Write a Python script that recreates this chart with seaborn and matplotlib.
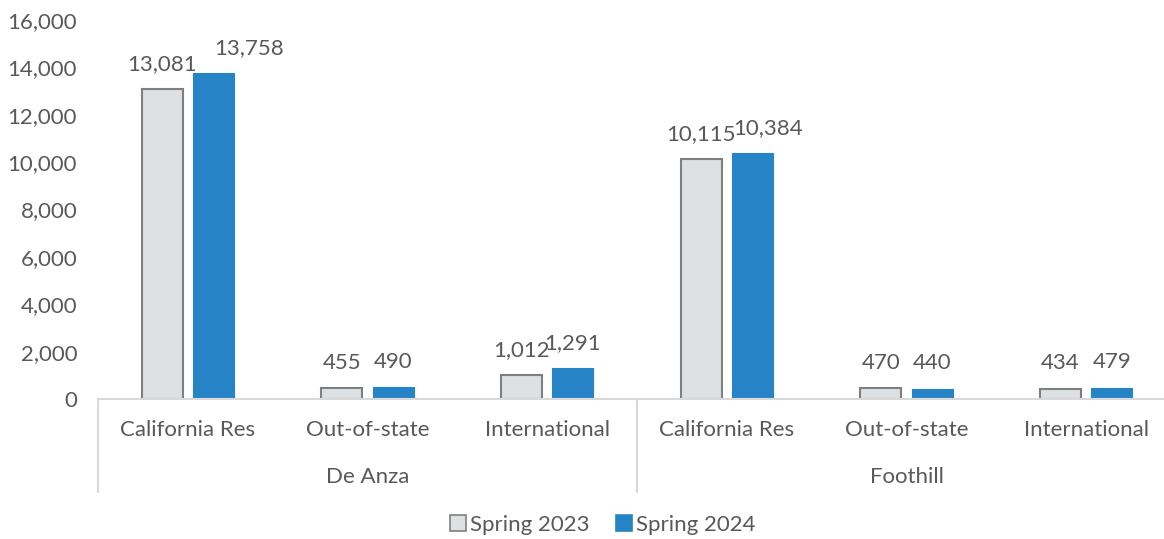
import matplotlib.pyplot as plt
import matplotlib.transforms as mtransforms
import numpy as np
import pandas as pd
import seaborn as sns

# values
colleges = ['De Anza', 'Foothill']
residency = ['California Res', 'Out-of-state', 'International']
terms = ['Spring 2023', 'Spring 2024']
spring_2023 = [13081, 455, 1012, 10115, 470, 434]
spring_2024 = [13758, 490, 1291, 10384, 440, 479]

text_color = '#595959'
line_color = '#D9D9D9'
bar_colors = {'Spring 2023': '#DEE1E4', 'Spring 2024': '#2683C6'}
edge_colors = {'Spring 2023': '#7F7F7F', 'Spring 2024': '#2683C6'}
fs = 16

# label nudges (points) for labels that were moved aside in the original
label_dx = {('Spring 2024', 0): 26, ('Spring 2024', 3): 11}

keys = [f'{c}|{r}' for c in colleges for r in residency]
df = pd.DataFrame({
    'key': keys * 2,
    'term': [terms[0]] * len(keys) + [terms[1]] * len(keys),
    'value': spring_2023 + spring_2024,
})

sns.set_style('white')
plt.rcParams['font.family'] = ['Lato', 'DejaVu Sans']

fig = plt.figure(figsize=(11.64, 5.39), dpi=100)
ax = fig.add_axes([98 / 1164, 1 - 399 / 539, 1078 / 1164, 379 / 539])

sns.barplot(data=df, x='key', y='value', hue='term', order=keys,
            hue_order=terms, palette=bar_colors, width=0.57, gap=0.2,
            saturation=1, linewidth=1.5, legend=False, ax=ax)

for container, term in zip(ax.containers, terms):
    for i, bar in enumerate(container):
        bar.set_edgecolor(edge_colors[term])
        bar.set_linewidth(1.5 if term == 'Spring 2023' else 0.8)
        ax.annotate(f'{container.datavalues[i]:,.0f}',
                    (bar.get_x() + bar.get_width() / 2, bar.get_height()),
                    xytext=(label_dx.get((term, i), 0), 11),
                    textcoords='offset points', ha='center', va='bottom',
                    fontsize=fs, color=text_color)

ax.set_ylim(0, 16000)
ax.set_xlim(-0.5, len(keys) - 0.5)
ax.set_yticks(np.arange(0, 16001, 2000))
ax.set_yticklabels([f'{v:,}' for v in range(0, 16001, 2000)],
                   fontsize=fs, color=text_color)
ax.set_xticks(range(len(keys)))
ax.set_xticklabels(residency * len(colleges), fontsize=fs, color=text_color)
ax.tick_params(axis='x', length=0, pad=15)
ax.tick_params(axis='y', length=0, pad=15)
ax.set_xlabel('')
ax.set_ylabel('')

for side in ['left', 'right', 'top']:
    ax.spines[side].set_visible(False)
ax.spines['bottom'].set_color(line_color)
ax.spines['bottom'].set_linewidth(1.5)

# second level of the category axis
trans = mtransforms.blended_transform_factory(ax.transData, ax.transAxes)
for x in [-0.5, 2.5, 5.5]:
    ax.plot([x, x], [0, -93 / 379], transform=trans, color=line_color,
            linewidth=1.5, clip_on=False)
for i, college in enumerate(colleges):
    ax.text(i * 3 + 1, -78 / 379, college, transform=trans, ha='center',
            va='center', fontsize=fs, color=text_color)

handles = [plt.Rectangle((0, 0), 1, 1, facecolor=bar_colors[t],
                         edgecolor=edge_colors[t], linewidth=1.2) for t in terms]
fig.legend(handles, terms, loc='center', bbox_to_anchor=(603 / 1164, 1 - 525 / 539),
           ncol=2, frameon=False, fontsize=fs, labelcolor=text_color,
           handlelength=0.7, handleheight=0.7, handletextpad=0.2,
           columnspacing=1.2)

fig.savefig('out.png', dpi=100)
